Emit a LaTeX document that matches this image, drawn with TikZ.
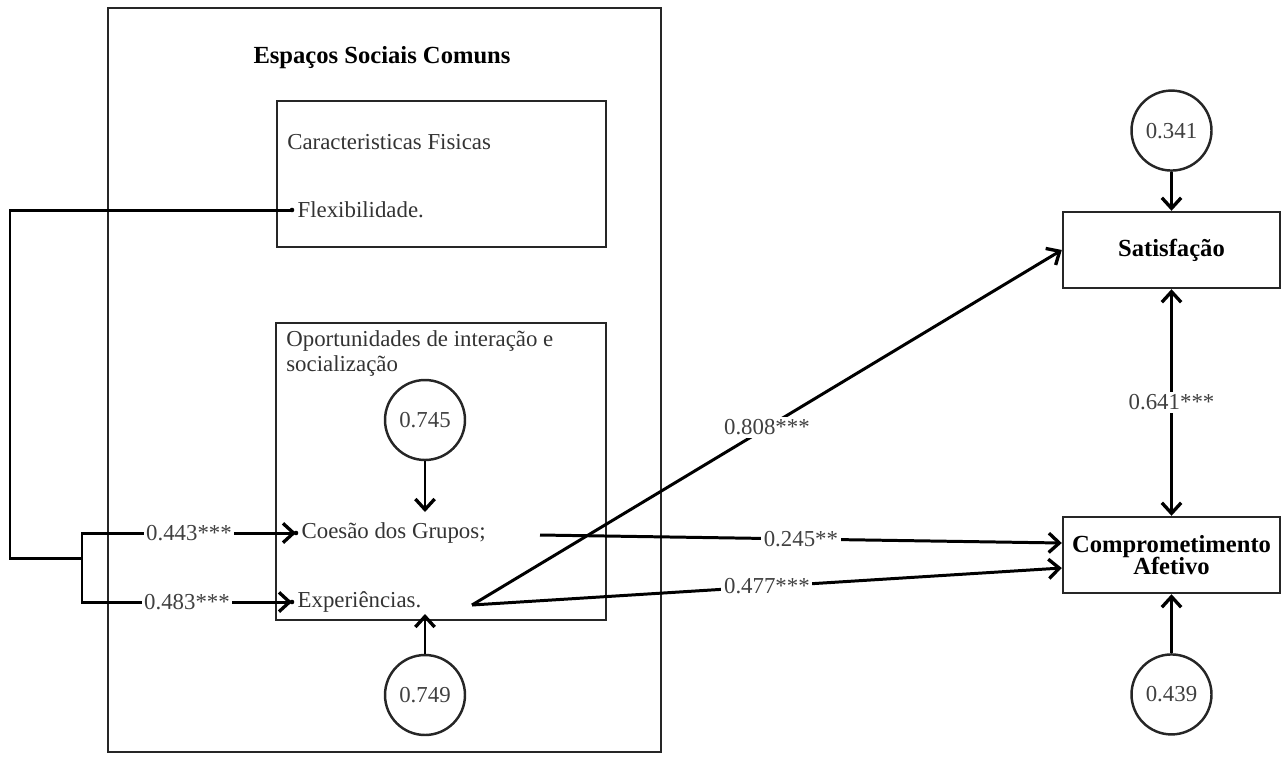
\documentclass[tikz,border=0pt]{standalone}
\usepackage{fontspec}
\setmainfont{Liberation Serif}
\usepackage{tikz}
\usetikzlibrary{positioning,arrows.meta}
\tikzset{
	box/.style={draw=black!85, line width=1.4pt},
	var/.style={draw=black!85, line width=1.4pt, circle, minimum size=1.6cm, inner sep=0pt, text=black!75},
	line/.style={draw=black, line width=1.7pt},
	effect/.style={line, -{Straight Barb[length=6pt,width=11pt,line width=1.9pt]}},
	both/.style={line, {Straight Barb[length=6pt,width=11pt,line width=1.9pt]}-{Straight Barb[length=6pt,width=11pt,line width=1.9pt]}},
	coef/.style={fill=white, text=black!75, inner sep=1.5pt},
	txt/.style={text=black!80, inner sep=0pt},
	bold/.style={font=\fontsize{14}{15}\selectfont\bfseries}
}

\begin{document}
\begin{tikzpicture}[x=0.02cm, y=-0.02cm, font=\fontsize{13}{14.5}\selectfont]
	\useasboundingbox (0,0) rectangle (1284,758);

	\node[box, minimum width=11.06cm, minimum height=14.88cm] (esc) at (384.5,380) {};
	\node[bold] (escT) at (382,58) {Espaços Sociais Comuns};

	\node[box, minimum width=6.58cm, minimum height=2.92cm] (cf) at (441.5,174) {};
	\node[txt, anchor=west] (cfT) at (287,142) {Caracteristicas Fisicas};
	\coordinate (fx) at (292,210);
	\node[txt, right=3pt of fx] (flex) {Flexibilidade.};

	\node[box, minimum width=6.6cm, minimum height=5.94cm] (oi) at (441,471.5) {};
	\node[txt, anchor=north west, align=left] (oiT) at (286,330) {Oportunidades de interação e\\socialização};
	\node[var] (e1) at (425,420) {0.745};
	\coordinate (cg) at (296,533);
	\node[txt, right=3pt of cg] (coes) {Coesão dos Grupos;};
	\coordinate (ex) at (292,602);
	\node[txt, right=3pt of ex] (exp) {Experiências.};
	\node[var] (e2) at (425,695) {0.749};

	\node[box, bold, minimum width=4.34cm, minimum height=1.52cm] (sat) at (1171.5,250) {Satisfação};
	\node[box, bold, align=center, minimum width=4.34cm, minimum height=1.52cm] (ca) at (1171.5,555) {Comprometimento\\[-2pt]Afetivo};
	\node[var, above=0.78cm of sat] (e3) {0.341};
	\node[var, below=1.18cm of ca] (e4) {0.439};

	\coordinate (k1) at (10,558);
	\coordinate (k2) at (82,558);
	\coordinate (cgo) at (540,535);
	\coordinate (exo) at (472,605);
	\coordinate (e1t) at (425,512);
	\coordinate (e2t) at (425,614);

	\draw[line] (fx) -| (k1) -- (k2);
	\draw[effect] (k2) |- node[coef, pos=0.75] {0.443***} (cg);
	\draw[effect] (k2) |- node[coef, pos=0.75] {0.483***} (ex);
	\fill (fx) circle[radius=1.3pt] (cg) circle[radius=1.3pt] (ex) circle[radius=1.3pt];

	\draw[effect] (e1) -- (e1t);
	\draw[effect] (e2) -- (e2t);

	\draw[effect] (exo) -- node[coef] {0.808***} (sat.west);
	\draw[effect] (cgo) -- node[coef, pos=0.5] {0.245**} ([yshift=0.24cm]ca.west);
	\draw[effect] (exo) -- node[coef] {0.477***} ([yshift=-0.26cm]ca.west);

	\draw[effect] (e3) -- (sat);
	\draw[effect] (e4) -- (ca);
	\draw[both] (sat) -- node[coef] {0.641***} (ca);
\end{tikzpicture}
\end{document}
